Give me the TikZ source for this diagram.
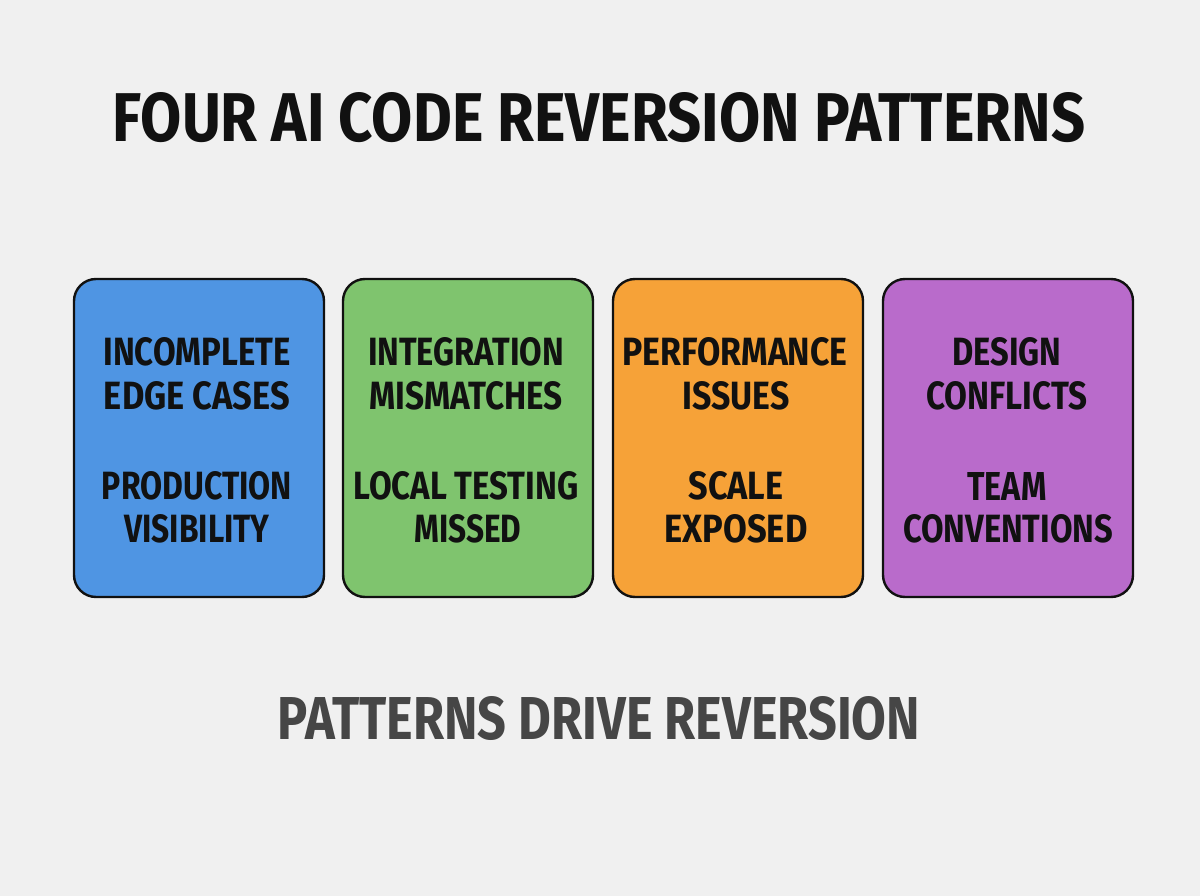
\documentclass[tikz,border=0pt]{standalone}
\usepackage{fontspec}
\setmainfont{Fira Sans}
\usepackage{graphicx}
\definecolor{bgc}{HTML}{F0F0F0}
\definecolor{cblue}{HTML}{4F95E3}
\definecolor{cgreen}{HTML}{7FC46E}
\definecolor{corange}{HTML}{F6A238}
\definecolor{cpurple}{HTML}{B96BCB}
\definecolor{ink}{HTML}{111111}
\definecolor{subink}{HTML}{464646}
\newcommand{\fitline}[3]{\resizebox{#1pt}{#2pt}{\bfseries #3}}
\tikzset{
  card/.style={draw=ink, line width=2.4pt, rounded corners=22pt, minimum width=250pt, minimum height=318pt, inner sep=0pt},
  txt/.style={inner sep=0pt, text=ink, anchor=center}
}
\begin{document}
\begin{tikzpicture}[x=1pt,y=-1pt]
\fill[bgc] (0,0) rectangle (1200,896);
\useasboundingbox (0,0) rectangle (1200,896);

\node[txt] (title) at (599,118) {\fitline{972}{49}{FOUR AI CODE REVERSION PATTERNS}};

\node[card, fill=cblue] (b1) at (199,438) {};
\node[card, fill=cgreen] (b2) at (468,438) {};
\node[card, fill=corange] (b3) at (738,438) {};
\node[card, fill=cpurple] (b4) at (1008,438) {};

\node[txt] (t11) at (197,352) {\fitline{187}{28}{INCOMPLETE}};
\node[txt] (t12) at (197,396) {\fitline{186}{28}{EDGE CASES}};
\node[txt] (t13) at (197,486) {\fitline{190}{28}{PRODUCTION}};
\node[txt] (t14) at (197,529) {\fitline{145}{28}{VISIBILITY}};

\node[txt] (t21) at (466,352) {\fitline{196}{28}{INTEGRATION}};
\node[txt] (t22) at (466,396) {\fitline{193}{28}{MISMATCHES}};
\node[txt] (t23) at (466,486) {\fitline{225}{28}{LOCAL TESTING}};
\node[txt] (t24) at (468,529) {\fitline{107}{28}{MISSED}};

\node[txt] (t31) at (735,352) {\fitline{225}{28}{PERFORMANCE}};
\node[txt] (t32) at (736,396) {\fitline{107}{28}{ISSUES}};
\node[txt] (t33) at (736,486) {\fitline{95}{28}{SCALE}};
\node[txt] (t34) at (736,529) {\fitline{143}{28}{EXPOSED}};

\node[txt] (t41) at (1007,352) {\fitline{109}{28}{DESIGN}};
\node[txt] (t42) at (1007,396) {\fitline{161}{28}{CONFLICTS}};
\node[txt] (t43) at (1007,486) {\fitline{79}{28}{TEAM}};
\node[txt] (t44) at (1008,529) {\fitline{210}{28}{CONVENTIONS}};

\node[txt, text=subink] (foot) at (599,719) {\fitline{642}{43}{PATTERNS DRIVE REVERSION}};
\end{tikzpicture}
\end{document}
